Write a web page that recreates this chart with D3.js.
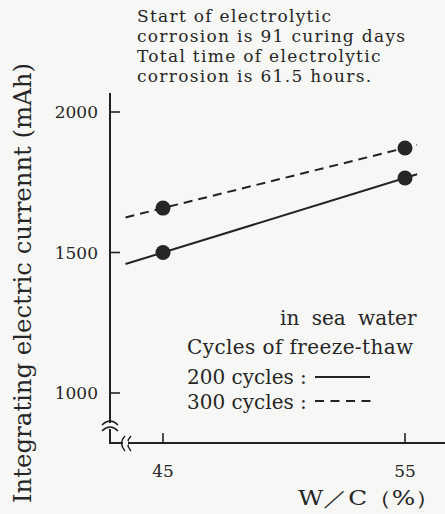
<!DOCTYPE html>
<html>
<head>
<meta charset="utf-8">
<script src="https://cdn.jsdelivr.net/npm/d3@7"></script>
<style>
  body { margin: 0; background: #f7f7f5; }
  svg { display: block; }
  text { font-family: "DejaVu Serif", serif; fill: #262626; }
</style>
</head>
<body>
<svg id="chart" width="445" height="514"></svg>
<script>
// data
let wc = [45, 55];
let cycles200 = [1500, 1765];
let cycles300 = [1658, 1872];
let lineExtent = [43.45, 55.5];
let yTicks = [1000, 1500, 2000];
let xTicks = [45, 55];
let notes = ["Start of electrolytic", "corrosion is 91 curing days",
             "Total time of electrolytic", "corrosion is 61.5 hours."];

let svg = d3.select("#chart");
let ink = "#222";
let bg = "#f7f7f5";

let x = d3.scaleLinear().domain([45, 55]).range([163, 405]);
let y = d3.scaleLinear().domain([1000, 2000]).range([393, 112]);
let axisX = 110, axisY = 443;

// straight line through the two points, run a little past them
function fit(vals) {
    let slope = (vals[1] - vals[0]) / (wc[1] - wc[0]);
    return lineExtent.map(function (w) {
        return { w: w, v: vals[0] + slope * (w - wc[0]) };
    });
}
let line = d3.line()
    .x(function (d) { return x(d.w); })
    .y(function (d) { return y(d.v); });

// axes
svg.append("path")
    .attr("d", "M" + axisX + ",93 V" + axisY + " H445")
    .attr("fill", "none").attr("stroke", ink).attr("stroke-width", 2);

let yt = svg.append("g");
yt.selectAll("line").data(yTicks).join("line")
    .attr("x1", axisX).attr("x2", axisX + 10)
    .attr("y1", function (d) { return y(d); })
    .attr("y2", function (d) { return y(d); })
    .attr("stroke", ink).attr("stroke-width", 1.6);
yt.selectAll("text").data(yTicks).join("text")
    .attr("x", axisX - 12)
    .attr("y", function (d) { return y(d); })
    .attr("dy", "0.36em")
    .attr("text-anchor", "end")
    .attr("font-size", 17)
    .text(function (d) { return d; });

let xt = svg.append("g");
xt.selectAll("line").data(xTicks).join("line")
    .attr("x1", function (d) { return x(d); })
    .attr("x2", function (d) { return x(d); })
    .attr("y1", axisY).attr("y2", axisY - 10)
    .attr("stroke", ink).attr("stroke-width", 1.6);
xt.selectAll("text").data(xTicks).join("text")
    .attr("x", function (d) { return x(d); })
    .attr("y", 477)
    .attr("text-anchor", "middle")
    .attr("font-size", 17)
    .text(function (d) { return d; });

// axis break marks
svg.append("rect").attr("x", axisX - 2).attr("y", 423).attr("width", 4).attr("height", 6)
    .attr("fill", bg);
let brk = svg.append("g").attr("fill", "none").attr("stroke", ink).attr("stroke-width", 1.5);
[0, 6].forEach(function (o) {
    brk.append("path")
        .attr("d", "M" + (axisX - 8) + "," + (425 + o) + " q8,-8 16,0");
});
svg.append("rect").attr("x", 123).attr("y", axisY - 2).attr("width", 5).attr("height", 4)
    .attr("fill", bg);
[0, 6].forEach(function (o) {
    brk.append("path")
        .attr("d", "M" + (125 + o) + "," + (axisY - 7) + " q-7,7 0,15");
});

// fitted lines
svg.append("path").datum(fit(cycles200))
    .attr("d", line).attr("fill", "none")
    .attr("stroke", ink).attr("stroke-width", 2);
svg.append("path").datum(fit(cycles300))
    .attr("d", line).attr("fill", "none")
    .attr("stroke", ink).attr("stroke-width", 2)
    .attr("stroke-dasharray", "9,6");

// points
let pts = wc.map(function (w, i) { return { w: w, v: cycles200[i] }; })
    .concat(wc.map(function (w, i) { return { w: w, v: cycles300[i] }; }));
svg.selectAll("circle.pt").data(pts).join("circle")
    .attr("class", "pt")
    .attr("cx", function (d) { return x(d.w); })
    .attr("cy", function (d) { return y(d.v); })
    .attr("r", 7.5)
    .attr("fill", "#262626");

// axis titles
svg.append("text")
    .attr("transform", "translate(31,283) rotate(-90)")
    .attr("text-anchor", "middle")
    .attr("font-size", 25)
    .attr("textLength", 440)
    .attr("lengthAdjust", "spacingAndGlyphs")
    .text("Integrating electric currennt (mAh)");
svg.append("text")
    .attr("x", 298).attr("y", 505)
    .attr("font-size", 20)
    .attr("textLength", 142)
    .attr("lengthAdjust", "spacingAndGlyphs")
    .text("W／C（%）");

// note
svg.append("g").selectAll("text").data(notes).join("text")
    .attr("x", 137)
    .attr("y", function (d, i) { return 22 + i * 20; })
    .attr("font-size", 17)
    .attr("letter-spacing", 1.3)
    .text(function (d) { return d; });

// legend
let lg = svg.append("g").attr("font-size", 20);
lg.append("text").attr("x", 280).attr("y", 325).attr("word-spacing", 6).text("in sea water");
lg.append("text").attr("x", 187).attr("y", 354).attr("letter-spacing", 0.4).text("Cycles of freeze-thaw");
lg.append("text").attr("x", 187).attr("y", 384).text("200 cycles :");
lg.append("text").attr("x", 187).attr("y", 409).text("300 cycles :");
lg.append("line").attr("x1", 315).attr("x2", 370).attr("y1", 377).attr("y2", 377)
    .attr("stroke", ink).attr("stroke-width", 1.8);
lg.append("line").attr("x1", 315).attr("x2", 371).attr("y1", 401).attr("y2", 401)
    .attr("stroke", ink).attr("stroke-width", 1.8).attr("stroke-dasharray", "9,6.5");
</script>
</body>
</html>
